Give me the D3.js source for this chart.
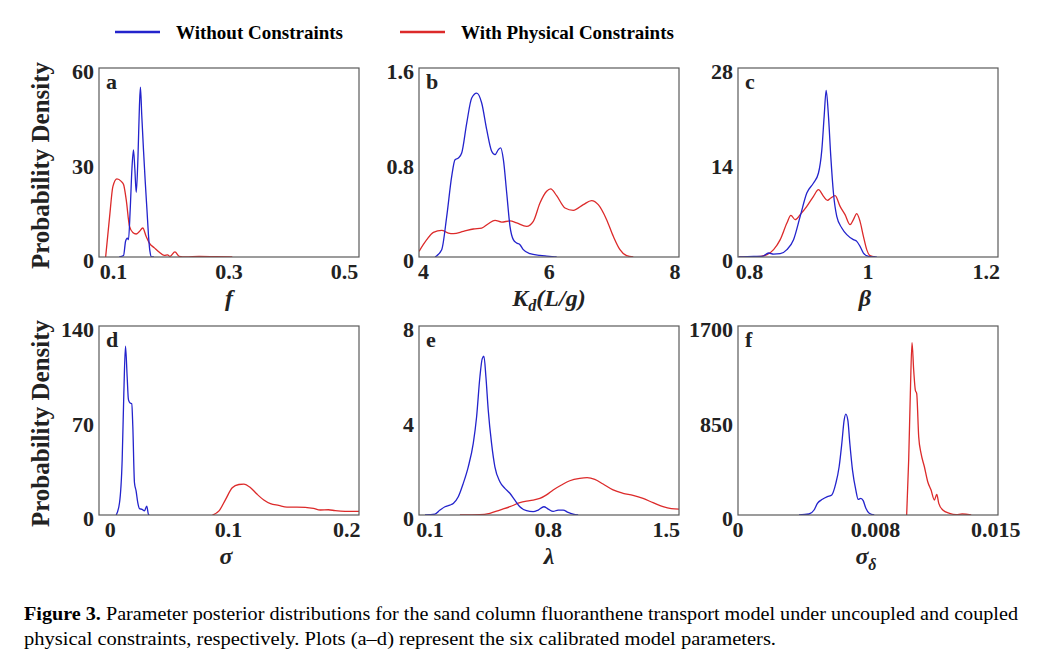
<!DOCTYPE html>
<html>
<head>
<meta charset="utf-8">
<script src="https://cdn.jsdelivr.net/npm/d3@7"></script>
<style>
  body { margin: 0; background: #fff; }
  text { font-family: "Liberation Serif", "Times New Roman", serif; }
</style>
</head>
<body>
<script>
// series: [x, density]
var aBlue = [[0.110,0],[0.1175,0.5],[0.121,5],[0.124,6],[0.126,5.5],[0.129,15],[0.132,28],[0.1347,34],[0.137,28],
  [0.1395,20.5],[0.1425,32],[0.145,48],[0.1467,53.9],[0.149,45],[0.152,34],[0.155,24],[0.158,15],[0.161,6],[0.163,2],[0.166,0],[0.17,0]];
var aRed = [[0.0865,0],[0.0934,12.9],[0.0991,22.4],[0.106,24.8],[0.1135,24],[0.1175,23],[0.1221,18.2],[0.1278,9.7],
  [0.1335,7.8],[0.1393,7.3],[0.145,8.1],[0.1508,9.2],[0.1565,6.6],[0.1622,4.4],[0.1709,2.9],[0.1795,1.5],[0.1881,0.5],
  [0.1938,0.7],[0.1978,0.2],[0.2064,1.6],[0.2139,0.2],[0.2254,0],[0.2483,0.2],[0.277,0.1],[0.3057,0]];
var bBlue = [[4.185,0],[4.291,0.062],[4.371,0.344],[4.450,0.683],[4.503,0.824],[4.556,0.838],[4.609,0.88],[4.689,1.134],
  [4.768,1.346],[4.848,1.388],[4.927,1.304],[5.007,1.078],[5.086,0.895],[5.139,0.866],[5.192,0.909],[5.229,0.923],
  [5.272,0.824],[5.325,0.542],[5.377,0.26],[5.430,0.147],[5.483,0.118],[5.536,0.104],[5.589,0.062],[5.695,0.028],
  [5.854,0.014],[5.960,0.008],[6.119,0]];
var bRed = [[3.931,0.048],[4.053,0.147],[4.159,0.209],[4.291,0.226],[4.397,0.203],[4.477,0.198],[4.636,0.217],[4.795,0.237],
  [4.927,0.245],[5.033,0.282],[5.139,0.31],[5.245,0.296],[5.377,0.305],[5.483,0.288],[5.642,0.26],[5.748,0.302],
  [5.854,0.457],[5.960,0.556],[6.024,0.576],[6.119,0.519],[6.252,0.415],[6.384,0.395],[6.543,0.443],[6.675,0.477],
  [6.781,0.443],[6.914,0.316],[7.020,0.175],[7.126,0.062],[7.232,0.011],[7.338,0]];
var cBlue = [[0.7818,0],[0.8070,0.1],[0.8211,0.1],[0.8323,0.59],[0.8407,0.44],[0.8519,0.49],[0.8632,1.09],[0.8744,2.57],
  [0.8856,6.02],[0.8968,9.48],[0.9081,10.96],[0.9165,12.44],[0.9222,15.9],[0.9261,20.84],[0.9295,24.69],[0.9334,20.84],
  [0.9373,14.91],[0.9418,9.48],[0.9474,6.02],[0.9559,4.3],[0.9643,3.31],[0.9755,2.57],[0.9812,2.32],[0.9867,1.58],
  [0.9924,0.59],[1.0008,0.1],[1.0149,0]];
var cRed = [[0.7818,0],[0.8126,0.05],[0.8295,0.35],[0.8407,1.09],[0.8519,2.57],[0.8632,5.04],[0.8699,6.17],[0.8772,5.53],
  [0.8856,6.27],[0.8968,7.5],[0.9081,8.99],[0.9165,9.97],[0.9250,8.99],[0.9317,8.39],[0.9373,8.74],[0.9446,9.09],
  [0.9530,7.5],[0.9614,6.27],[0.9699,4.79],[0.9755,5.53],[0.9811,6.42],[0.9867,5.28],[0.9924,3.06],[0.9980,1.09],
  [1.0036,0.2],[1.0121,0]];
var dBlue = [[0.00505,0],[0.00785,9.1],[0.0101,41],[0.0115,90],[0.0129,125],[0.0143,102.6],[0.0154,85.4],[0.0168,82.9],
  [0.0182,82.4],[0.0191,65.7],[0.0205,23.9],[0.0219,17.7],[0.0233,9.1],[0.0247,4.7],[0.0269,4.2],[0.0289,3.0],
  [0.0309,6.6],[0.0323,0.5],[0.0331,0]];
var dRed = [[0.0864,0],[0.0920,3.0],[0.0976,11.6],[0.1032,20.2],[0.1088,22.6],[0.1130,22.9],[0.1187,20.2],[0.1243,15.3],
  [0.1299,11.1],[0.1355,8.4],[0.1425,7.1],[0.1495,5.9],[0.1579,5.9],[0.1649,5.7],[0.1719,4.9],[0.1776,3.7],
  [0.1846,3.9],[0.1902,3.2],[0.1986,2.7],[0.2104,2.7]];
var eBlue = [[0.0704,0],[0.1296,0.04],[0.1592,0.21],[0.1887,0.35],[0.2183,0.42],[0.2380,0.49],[0.2676,0.77],[0.2972,1.34],
  [0.3268,2.04],[0.3564,3.03],[0.3761,4.15],[0.3958,5.85],[0.4096,6.62],[0.4195,6.72],[0.4313,5.85],[0.4451,4.44],
  [0.4648,3.03],[0.4845,2.04],[0.5141,1.41],[0.5437,1.13],[0.5733,0.92],[0.6029,0.63],[0.6324,0.35],[0.6719,0.18],
  [0.7113,0.14],[0.7409,0.21],[0.7744,0.35],[0.8001,0.25],[0.8297,0.15],[0.8592,0.21],[0.8888,0.21],[0.9184,0.11],
  [0.9480,0.04],[0.9775,0]];
var eRed = [[0.2775,0],[0.3958,0.01],[0.4550,0.07],[0.5141,0.21],[0.5733,0.35],[0.6324,0.52],[0.6916,0.61],[0.7507,0.70],
  [0.7902,0.85],[0.8296,1.06],[0.8789,1.27],[0.9282,1.45],[0.9874,1.55],[1.0308,1.58],[1.0761,1.51],[1.1254,1.31],
  [1.1846,1.06],[1.2437,0.92],[1.3029,0.83],[1.3621,0.70],[1.4212,0.52],[1.4804,0.35],[1.5297,0.27],[1.5751,0.25]];
var fBlue = [[0.003551,0],[0.004134,9],[0.004426,45],[0.004621,105],[0.004912,141],[0.005204,165],[0.005457,180],
  [0.005691,284],[0.005885,434],[0.006041,643],[0.006177,853],[0.006274,907],[0.006391,853],[0.006508,643],
  [0.006663,404],[0.006858,224],[0.006994,141],[0.007150,150],[0.007286,129],[0.007442,60],[0.007636,15],[0.007928,0]];
var fRed = [[0.009815,0],[0.009932,494],[0.010029,1092],[0.010126,1550],[0.010224,1302],[0.010321,1122],[0.010399,1092],
  [0.010516,703],[0.010652,554],[0.010846,434],[0.011041,299],[0.011235,224],[0.011430,135],[0.011566,186],
  [0.011683,105],[0.011916,45],[0.012305,15],[0.012695,3],[0.013045,9],[0.013570,0]];

// axes
var panelLetters = ["a", "b", "c", "d", "e", "f"];
var xDomains = [[0.075, 0.525], [3.93, 8.065], [0.7806, 1.2197], [-0.0095, 0.2104], [0.035, 1.575], [0, 0.01513]];
var yMax = [60, 1.6, 28, 140, 8, 1700];
var xTicks = [[0.1, 0.3, 0.5], [4, 6, 8], [0.8, 1, 1.2], [0, 0.1, 0.2], [0.1, 0.8, 1.5], [0, 0.008, 0.015]];
var xTickLabels = [["0.1", "0.3", "0.5"], ["4", "6", "8"], ["0.8", "1", "1.2"], ["0", "0.1", "0.2"], ["0.1", "0.8", "1.5"], ["0", "0.008", "0.015"]];
var yTicks = [[0, 30, 60], [0, 0.8, 1.6], [0, 14, 28], [0, 70, 140], [0, 4, 8], [0, 850, 1700]];
var yTickLabels = [["0", "30", "60"], ["0", "0.8", "1.6"], ["0", "14", "28"], ["0", "70", "140"], ["0", "4", "8"], ["0", "850", "1700"]];
var blueSeries = [aBlue, bBlue, cBlue, dBlue, eBlue, fBlue];
var redSeries = [aRed, bRed, cRed, dRed, eRed, fRed];
var seriesNames = ["Without Constraints", "With Physical Constraints"];

var blue = "#2323cc", red = "#dc2a2a";
var W = 1052, H = 659;
var colLeft = [99, 419, 738], rowTop = [68, 326];
var pw = 260, ph = 189;

var svg = d3.select("body").append("svg")
  .attr("width", W)
  .attr("height", H);

// legend
var legX = [115, 400];
seriesNames.forEach(function(name, i) {
  svg.append("line")
    .attr("x1", legX[i]).attr("x2", legX[i] + 45)
    .attr("y1", 32).attr("y2", 32)
    .attr("stroke", i == 0 ? blue : red)
    .attr("stroke-width", 2.4);
  svg.append("text")
    .attr("x", legX[i] + 61).attr("y", 38.5)
    .attr("font-size", "19px").attr("font-weight", "bold")
    .text(name);
});

var defs = svg.append("defs");

panelLetters.forEach(function(letter, i) {
  var x0 = colLeft[i % 3], y0 = rowTop[Math.floor(i / 3)];
  var g = svg.append("g").attr("transform", "translate(" + x0 + "," + y0 + ")");

  var x = d3.scaleLinear().domain(xDomains[i]).range([0, pw]);
  var y = d3.scaleLinear().domain([0, yMax[i]]).range([ph, 0]);

  defs.append("clipPath").attr("id", "clip" + i)
    .append("rect").attr("width", pw).attr("height", ph);

  var line = d3.line()
    .x(function(d) { return x(d[0]); })
    .y(function(d) { return y(d[1]); })
    .curve(d3.curveMonotoneX);

  var plot = g.append("g").attr("clip-path", "url(#clip" + i + ")");
  plot.append("path").datum(redSeries[i])
    .attr("d", line).attr("fill", "none")
    .attr("stroke", red).attr("stroke-width", 1.3);
  plot.append("path").datum(blueSeries[i])
    .attr("d", line).attr("fill", "none")
    .attr("stroke", blue).attr("stroke-width", 1.3);

  g.append("rect")
    .attr("width", pw).attr("height", ph)
    .attr("fill", "none").attr("stroke", "#5a5a5a").attr("stroke-width", 1.2);

  g.selectAll("text.xt")
    .data(xTicks[i])
    .enter().append("text")
    .attr("class", "xt")
    .attr("x", function(d) { return x(d); })
    .attr("y", ph + 22)
    .attr("text-anchor", "middle")
    .attr("font-size", "22px").attr("font-weight", "bold")
    .attr("fill", "#222")
    .text(function(d, j) { return xTickLabels[i][j]; });

  g.selectAll("text.yt")
    .data(yTicks[i])
    .enter().append("text")
    .attr("class", "yt")
    .attr("x", -5)
    .attr("y", function(d) { return y(d) + 11; })
    .attr("text-anchor", "end")
    .attr("font-size", "22px").attr("font-weight", "bold")
    .attr("fill", "#222")
    .text(function(d, j) { return yTickLabels[i][j]; });

  g.append("text")
    .attr("x", 7).attr("y", 21)
    .attr("font-size", "22px").attr("font-weight", "bold")
    .attr("fill", "#222")
    .text(letter);
});

// x axis titles
var titleY = rowTop.map(function(t) { return t + ph + 49; });
function xTitle(cx, cy) {
  return svg.append("text")
    .attr("x", cx).attr("y", cy)
    .attr("text-anchor", "middle")
    .attr("font-size", "24px").attr("font-weight", "bold").attr("font-style", "italic")
    .attr("fill", "#222");
}
xTitle(colLeft[0] + pw / 2, titleY[0]).text("f");
var kd = xTitle(colLeft[1] + pw / 2, titleY[0]);
kd.append("tspan").text("K");
kd.append("tspan").attr("font-size", "16px").attr("dy", 5).text("d");
kd.append("tspan").attr("dy", -5).text("(L/g)");
xTitle(colLeft[2] + pw / 2 - 3, titleY[0]).text("β");
xTitle(colLeft[0] + pw / 2 - 3, titleY[1]).text("σ");
xTitle(colLeft[1] + pw / 2, titleY[1]).text("λ");
var sd = xTitle(colLeft[2] + pw / 2 - 2, titleY[1]);
sd.append("tspan").text("σ");
sd.append("tspan").attr("font-size", "16px").attr("dy", 6).text("δ");

// y axis titles
rowTop.forEach(function(t) {
  svg.append("text")
    .attr("transform", "translate(49," + (t + ph / 2 + 3) + ") rotate(-90)")
    .attr("text-anchor", "middle")
    .attr("font-size", "25px").attr("font-weight", "bold")
    .attr("fill", "#222")
    .text("Probability Density");
});

// caption
var cap1 = svg.append("text")
  .attr("x", 24).attr("y", 620)
  .attr("font-size", "18px")
  .attr("textLength", 994).attr("lengthAdjust", "spacingAndGlyphs");
cap1.append("tspan").attr("font-weight", "bold").text("Figure 3.");
cap1.append("tspan").text(" Parameter posterior distributions for the sand column fluoranthene transport model under uncoupled and coupled");
svg.append("text")
  .attr("x", 24).attr("y", 645)
  .attr("font-size", "18px")
  .attr("textLength", 752).attr("lengthAdjust", "spacingAndGlyphs")
  .text("physical constraints, respectively. Plots (a–d) represent the six calibrated model parameters.");
</script>
</body>
</html>
